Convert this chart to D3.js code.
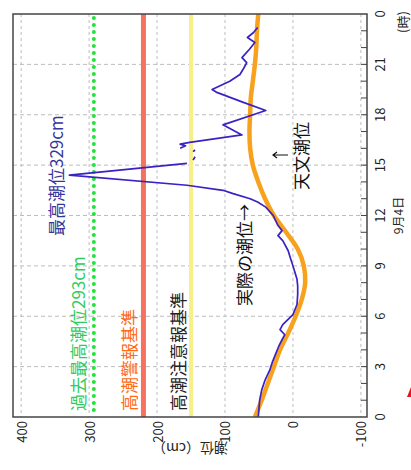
<!DOCTYPE html>
<html>
<head>
<meta charset="utf-8">
<script src="https://cdn.jsdelivr.net/npm/d3@7"></script>
<style>
  html, body { margin: 0; padding: 0; background: #fff; }
  svg { display: block; }
  text { font-family: "Noto Sans CJK JP", "Noto Sans", sans-serif; }
</style>
</head>
<body>
<svg id="chart" width="411" height="470"></svg>
<script>
// ---- data ----
const hourTicks = [0, 3, 6, 9, 12, 15, 18, 21, 24];
const hourLabels = ["0", "3", "6", "9", "12", "15", "18", "21", "0"];
const levelTicks = [400, 300, 200, 100, 0, -100];
const levelLabels = ["400", "300", "200", "100", "0", "-100"];

// astronomical tide (hourly)
const astroTime = [0,1,2,3,4,5,6,7,8,9,10,11,12,13,14,15,16,17,18,19,20,21,22,23,24];
const astroLevel = [56,46,37,28,19,7,-4,-13,-18,-16,-7,10,28,41,51,59,63,64,63,62,59,56,54,53,51];

// observed tide (null = missing)
const obsTime = [0,0.5,1.0,1.6,2.2,2.8,3.3,3.7,4.2,4.6,4.9,5.2,5.5,6.1,6.7,7.3,7.8,8.2,8.6,9.0,9.5,9.9,10.5,10.8,11.1,11.4,12.0,12.5,12.8,13.0,13.3,13.5,13.8,14.4,15.1,
  15.2,15.3,15.5,15.65,15.8,15.9,15.95,16.0,16.15,16.25,16.35,16.8,17.4,18.25,18.75,19.35,19.5,20.0,20.4,20.8,21.1,21.4,21.9,22.3,22.6,22.9,23.2];
const obsLevel = [51,50,49,46,41,34,30,26,21,16,12,19,15,0,-6,-7,-7,-6,-3,0,4,7,15,22,16,22,29,40,52,63,88,103,156,329,156,
  null,147,144,null,147,144,null,166,158,166,152,75,103,40,74,113,119,93,78,72,68,75,64,56,67,58,52];

// reference levels
const recordLevel = 293;   // 過去最高潮位
const warningLevel = 220;  // 高潮警報基準
const advisoryLevel = 150; // 高潮注意報基準

// ---- drawing ----
const svg = d3.select("#chart");
const L = 13, R = 367, T = 14, B = 417;
const x = d3.scaleLinear().domain([412, -109]).range([L, R]);
const y = d3.scaleLinear().domain([0, 24]).range([B, T]);

// grid
svg.append("g").selectAll("line").data(levelTicks).join("line")
  .attr("x1", d => x(d)).attr("x2", d => x(d)).attr("y1", T).attr("y2", B)
  .attr("stroke", "#bdbdbd").attr("stroke-width", 1).attr("stroke-dasharray", "3,3");
svg.append("g").selectAll("line").data(hourTicks.slice(1, -1)).join("line")
  .attr("x1", L).attr("x2", R).attr("y1", d => y(d)).attr("y2", d => y(d))
  .attr("stroke", "#bdbdbd").attr("stroke-width", 1).attr("stroke-dasharray", "4,3");

// reference lines
svg.append("line").attr("x1", x(recordLevel)).attr("x2", x(recordLevel)).attr("y1", T + 4).attr("y2", B - 2)
  .attr("stroke", "#22e33a").attr("stroke-width", 4).attr("stroke-dasharray", "0,7").attr("stroke-linecap", "round");
svg.append("line").attr("x1", x(warningLevel)).attr("x2", x(warningLevel)).attr("y1", T).attr("y2", B)
  .attr("stroke", "#f4725e").attr("stroke-width", 5);
svg.append("line").attr("x1", x(advisoryLevel)).attr("x2", x(advisoryLevel)).attr("y1", T).attr("y2", B)
  .attr("stroke", "#f7f08a").attr("stroke-width", 4);

// astronomical tide
const astro = astroTime.map((t, i) => ({t, v: astroLevel[i]}));
svg.append("path").datum(astro)
  .attr("d", d3.line().x(d => x(d.v)).y(d => y(d.t)).curve(d3.curveCatmullRom))
  .attr("fill", "none").attr("stroke", "#f7a11c").attr("stroke-width", 4.5);

// observed tide
const obs = obsTime.map((t, i) => ({t, v: obsLevel[i]}));
svg.append("path").datum(obs)
  .attr("d", d3.line().defined(d => d.v !== null).x(d => x(d.v)).y(d => y(d.t)))
  .attr("fill", "none").attr("stroke", "#3a22c4").attr("stroke-width", 1.7).attr("stroke-linejoin", "round");

// frame
svg.append("rect").attr("x", L).attr("y", T).attr("width", R - L).attr("height", B - T)
  .attr("fill", "none").attr("stroke", "#444").attr("stroke-width", 1.5);

// hourly minor ticks on right
svg.append("g").selectAll("line").data(d3.range(1, 24)).join("line")
  .attr("x1", R).attr("x2", R - 6).attr("y1", d => y(d)).attr("y2", d => y(d))
  .attr("stroke", "#444").attr("stroke-width", 1);

// time labels (right)
svg.append("g").selectAll("text").data(hourTicks).join("text")
  .attr("transform", d => `translate(379,${y(d)}) rotate(-90)`)
  .attr("text-anchor", "middle").attr("dominant-baseline", "central")
  .attr("font-size", 13).attr("fill", "#222")
  .text((d, i) => hourLabels[i]);
svg.append("text").attr("transform", `translate(402,${y(24) + 8}) rotate(-90)`)
  .attr("text-anchor", "middle").attr("dominant-baseline", "central")
  .attr("font-size", 13).attr("fill", "#222").text("(時)");
svg.append("text").attr("transform", `translate(397,${y(12)}) rotate(-90)`)
  .attr("text-anchor", "middle").attr("dominant-baseline", "central")
  .attr("font-size", 12).attr("fill", "#222").text("9月4日");

// level labels (bottom)
svg.append("g").selectAll("text").data(levelTicks).join("text")
  .attr("transform", d => `translate(${x(d)},${B + 4}) rotate(-90)`)
  .attr("text-anchor", "end").attr("dominant-baseline", "central")
  .attr("font-size", 13).attr("fill", "#222")
  .text((d, i) => levelLabels[i]);
svg.append("text").attr("transform", `translate(190,449) rotate(180)`)
  .attr("text-anchor", "middle").attr("dominant-baseline", "central")
  .attr("font-size", 14).attr("fill", "#222").text("潮位（cm）");

// annotations
function vlabel(cx, startY, txt, color) {
  svg.append("text").attr("transform", `translate(${cx},${startY}) rotate(-90)`)
    .attr("text-anchor", "start").attr("dominant-baseline", "central")
    .attr("font-size", 17).attr("fill", color).text(txt);
}
vlabel(55, 236, "最高潮位329cm", "#35359a");
vlabel(77, 411, "過去最高潮位293cm", "#2ecc5e");
vlabel(128, 411, "高潮警報基準", "#ff6a13");
vlabel(177, 411, "高潮注意報基準", "#222");
vlabel(243, 306, "実際の潮位→", "#111");
vlabel(300, 190, "天文潮位", "#111");
// arrow for 天文潮位
svg.append("path").attr("d", "M288,155 L273,155 M277,152 L273,155 L277,158")
  .attr("fill", "none").attr("stroke", "#111").attr("stroke-width", 1.2);
// cut-off red mark at bottom right
svg.append("path").attr("d", "M407,397 L411,387 L411,397 Z").attr("fill", "#e8141c");
</script>
</body>
</html>
